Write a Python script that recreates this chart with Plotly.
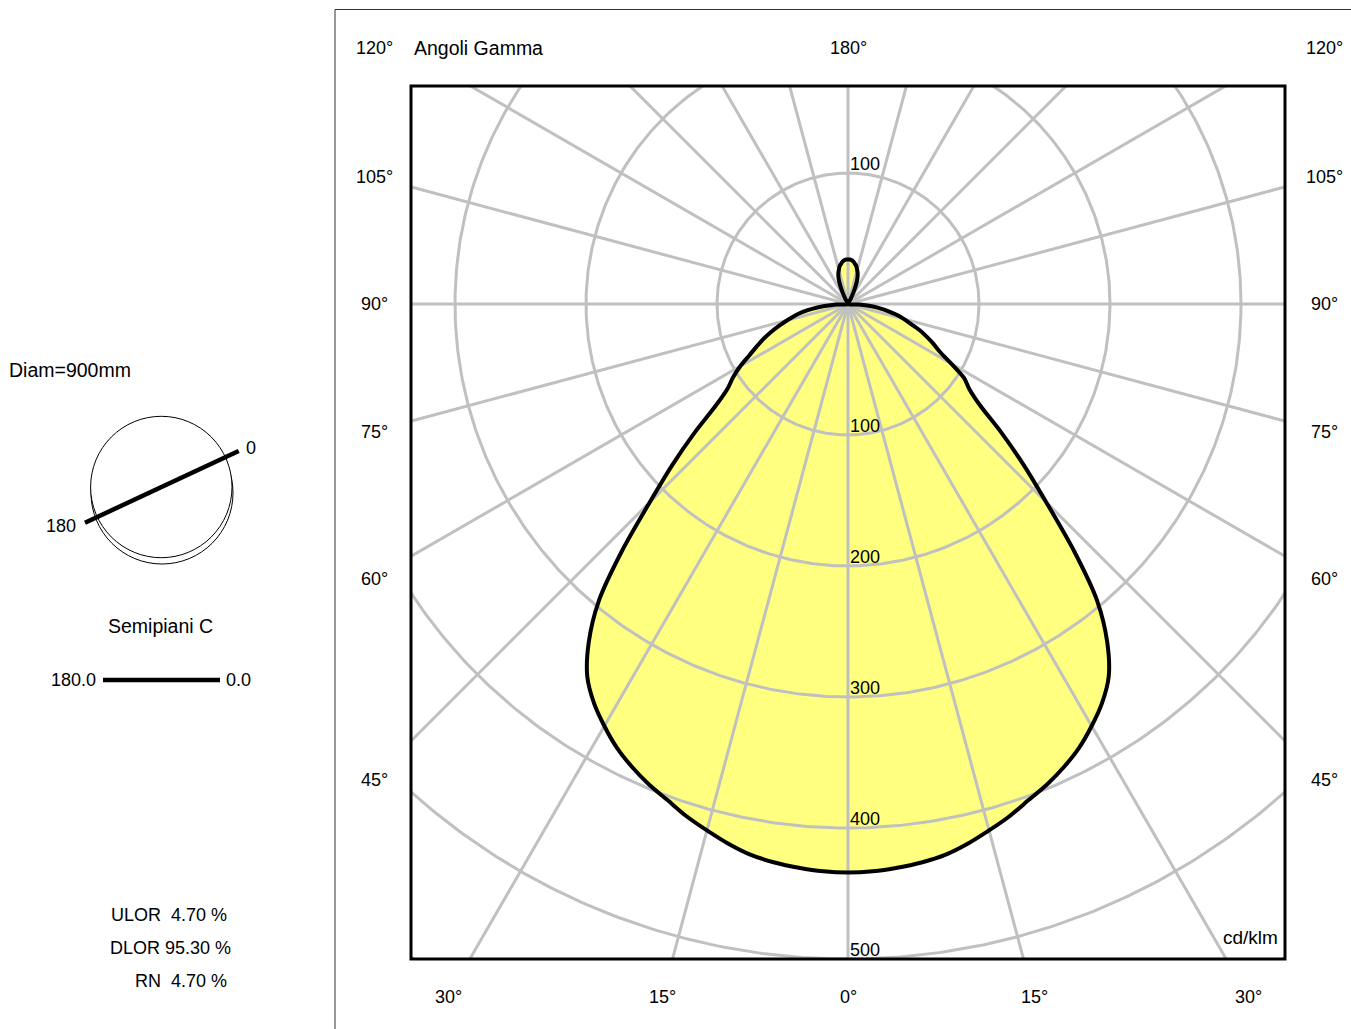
import numpy as np
import plotly.graph_objects as go

# ---------------- data ----------------
gamma_deg = [0, 2.5, 5, 7.5, 10, 12.5, 15, 17.5, 20, 22.5, 25, 27.5, 30, 32.5,
             35, 37.5, 40, 42.5, 45, 47.5, 50, 52.5, 55, 57.5, 60, 62.5, 65,
             67.5, 70, 72.5, 75, 77.5, 80, 82.5, 85, 87.5, 90, 95, 100, 105,
             110, 115, 120, 125, 130, 135, 140, 145, 150, 152.5, 155, 157.5,
             160, 162.5, 165, 167.5, 170, 172.5, 175, 177.5, 180]

cd_c0 = [434, 433.5, 432, 430, 427, 422, 416, 410, 403, 397, 390, 382, 372, 361,
         347, 325, 296, 255, 214, 182, 153, 127, 113, 105, 91, 79, 72,
         65, 58, 50, 44, 38, 31, 24, 16, 8, 0, 0, 0, 0,
         0, 0, 0, 0, 0, 0, 0, 0, 0, 4, 10, 16,
         21, 24.5, 27, 29.5, 31, 32.5, 33.5, 34, 34]

cd_c180 = [434, 433.5, 432, 430, 427, 422, 416, 410, 403, 397, 390, 382, 372, 361,
           347, 325, 296, 255, 214, 182, 153, 127, 112, 104, 95, 85, 77,
           70, 62.5, 55, 48, 42, 35, 27, 18, 9, 0, 0, 0, 0,
           0, 0, 0, 0, 0, 0, 0, 0, 0, 4, 10, 16,
           21, 24.5, 27, 29.5, 31, 32.5, 33.5, 34, 34]

grid_radii = [100, 200, 300, 400, 500, 600, 700]
grid_spokes_deg = list(range(0, 360, 15))
radial_labels_down = [100, 200, 300, 400, 500]
radial_labels_up = [100]

side_labels = ["120°", "105°", "90°", "75°", "60°", "45°"]
bottom_labels = ["30°", "15°", "0°", "15°", "30°"]

ulor, dlor, rn = 4.70, 95.30, 4.70

# ---------------- layout geometry (pixels) ----------------
FW, FH = 1351, 1029
L, R, T, B = 411, 1285, 86, 959
W, H = R - L, B - T
PX_PER_CD = 1.31
CX, CY = 848, 304

def px(p):
    return (p - L) / W

def py(p):
    return (B - p) / H

x_range = [-(CX - L) / PX_PER_CD, (R - CX) / PX_PER_CD]
y_range = [-(B - CY) / PX_PER_CD, (CY - T) / PX_PER_CD]

FONT = "Liberation Sans, Arial, Helvetica, sans-serif"
GRID = "#c0c0c0"

# ---------------- curve ----------------
g = np.radians(np.array(gamma_deg, dtype=float))
r0 = np.array(cd_c0, dtype=float)
r180 = np.array(cd_c180, dtype=float)
xs = np.concatenate([r0 * np.sin(g), -(r180 * np.sin(g))[::-1]])
ys = np.concatenate([-r0 * np.cos(g), -(r180 * np.cos(g))[::-1]])
keep = [0]
for i in range(1, len(xs)):
    if abs(xs[i] - xs[keep[-1]]) > 1e-6 or abs(ys[i] - ys[keep[-1]]) > 1e-6:
        keep.append(i)
xs, ys = xs[keep], ys[keep]

fig = go.Figure()

# fill
fig.add_trace(go.Scatter(x=xs, y=ys, mode="lines", fill="toself",
                         fillcolor="#ffff80",
                         line=dict(width=0, color="#ffff80", shape="spline", smoothing=0.8),
                         hoverinfo="skip"))

# grid circles
th = np.linspace(0, 2 * np.pi, 721)
for rr in grid_radii:
    fig.add_trace(go.Scatter(x=rr * np.cos(th), y=rr * np.sin(th), mode="lines",
                             line=dict(color=GRID, width=3), hoverinfo="skip"))
# spokes
for a in grid_spokes_deg:
    ar = np.radians(a)
    fig.add_trace(go.Scatter(x=[0, 900 * np.sin(ar)], y=[0, -900 * np.cos(ar)], mode="lines",
                             line=dict(color=GRID, width=3), hoverinfo="skip"))

# curve outline
fig.add_trace(go.Scatter(x=xs, y=ys, mode="lines",
                         line=dict(color="black", width=4, shape="spline", smoothing=0.8),
                         hoverinfo="skip"))

ann = []
def text(t, x, y, xanchor="center", yanchor="middle", xref="paper", yref="paper", size=18, yshift=0):
    ann.append(dict(text=t, x=x, y=y, xref=xref, yref=yref, xanchor=xanchor, yshift=yshift,
                    yanchor=yanchor, showarrow=False, font=dict(family=FONT, size=size, color="black")))

# radial value labels
for v in radial_labels_down:
    text(str(v), 0, -v, xanchor="left", yanchor="bottom", xref="x", yref="y", yshift=-3)
for v in radial_labels_up:
    text(str(v), 0, v, xanchor="left", yanchor="bottom", xref="x", yref="y", yshift=-3)

# gamma labels
side_y = [48, 177, 304, 432, 579, 780]
for t, yy in zip(side_labels, side_y):
    text(t, px(374), py(yy))
    text(t, px(1324), py(yy))
text("180°", px(848), py(48))
text("Angoli Gamma", px(412), py(48), xanchor="left", size=19.5)
bottom_x = [448, 662, 848, 1034, 1248]
for t, xx in zip(bottom_labels, bottom_x):
    text(t, px(xx), py(997))
text("cd/klm", px(1280), py(950), xanchor="right", yanchor="bottom", size=19)

# left panel
text("Diam=900mm", px(7), py(370), xanchor="left", size=19.5)
text("0", px(251), py(448))
text("180", px(61), py(526))
text("Semipiani C", px(161), py(626), size=19.5)
text("180.0", px(73), py(680))
text("0.0", px(238), py(680))
text(f"ULOR  {ulor:.2f} %", px(229), py(915), xanchor="right")
text(f"DLOR {dlor:.2f} %", px(233), py(948), xanchor="right")
text(f"RN  {rn:.2f} %", px(229), py(981), xanchor="right")

shapes = []
# plot box
shapes.append(dict(type="rect", xref="paper", yref="paper", x0=0, y0=0, x1=1, y1=1,
                   line=dict(color="black", width=3), layer="above"))
# outer frame lines
shapes.append(dict(type="line", xref="paper", yref="paper", x0=px(335), y0=py(9.5), x1=px(1352), y1=py(9.5),
                   line=dict(color="#333333", width=1)))
shapes.append(dict(type="line", xref="paper", yref="paper", x0=px(335), y0=py(9.5), x1=px(335), y1=py(1030),
                   line=dict(color="#333333", width=1)))
# luminaire glyph
shapes.append(dict(type="circle", xref="paper", yref="paper", x0=px(162 - 71), y0=py(493 - 71),
                   x1=px(162 + 71), y1=py(493 + 71), line=dict(color="black", width=1)))
shapes.append(dict(type="circle", xref="paper", yref="paper", x0=px(161.3 - 70.7), y0=py(487 - 70.7),
                   x1=px(161.3 + 70.7), y1=py(487 + 70.7), line=dict(color="black", width=1),
                   fillcolor="white"))
shapes.append(dict(type="line", xref="paper", yref="paper", x0=px(85), y0=py(522.7), x1=px(238.7), y1=py(451),
                   line=dict(color="black", width=4.5)))
shapes.append(dict(type="line", xref="paper", yref="paper", x0=px(103), y0=py(680), x1=px(220), y1=py(680),
                   line=dict(color="black", width=4.5)))

fig.update_layout(
    width=FW, height=FH,
    margin=dict(l=L, r=FW - R, t=T, b=FH - B, pad=0),
    paper_bgcolor="white", plot_bgcolor="white",
    showlegend=False,
    xaxis=dict(range=x_range, visible=False, fixedrange=True),
    yaxis=dict(range=y_range, visible=False, fixedrange=True),
    annotations=ann, shapes=shapes,
    font=dict(family=FONT, size=18, color="black"),
)

fig.write_html("out.html", config={"displayModeBar": False},
               post_script="document.body.style.margin='0';document.body.style.overflow='hidden';")
